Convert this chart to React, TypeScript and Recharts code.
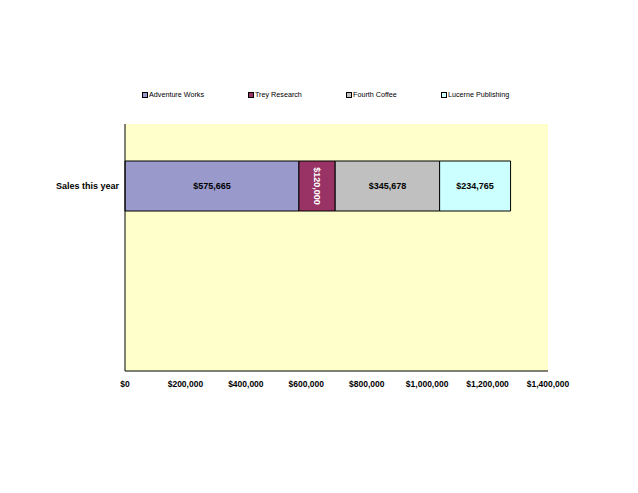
import React from "react";
import {
  BarChart,
  Bar,
  XAxis,
  YAxis,
  CartesianGrid,
  Legend,
  LabelList,
} from "recharts";

const categories = ["Sales this year", ""];
const seriesNames = ["Adventure Works", "Trey Research", "Fourth Coffee", "Lucerne Publishing"];
const seriesValues = [575665, 120000, 345678, 234765];
const seriesColors = ["#9999CC", "#993366", "#C0C0C0", "#CCFFFF"];
const xTicks = [0, 200000, 400000, 600000, 800000, 1000000, 1200000, 1400000];

const data = categories.map((name, i) => {
  const row: Record<string, string | number | null> = { name };
  seriesNames.forEach((s, j) => {
    row[s] = i === 0 ? seriesValues[j] : null;
  });
  return row;
});

const money = (v: number) => `$${Number(v).toLocaleString("en-US")}`;
const font = "'Liberation Sans', Arial, sans-serif";

// legend item left edges
const legendLeft = [142, 248, 346, 441];

const LegendContent = () => (
  <div style={{ position: "relative", height: 0, width: 638 }}>
    {seriesNames.map((s, i) => (
      <div
        key={s}
        style={{
          position: "absolute",
          left: legendLeft[i],
          top: 0,
          display: "flex",
          alignItems: "center",
          fontFamily: font,
          fontSize: 7.2,
          whiteSpace: "nowrap",
        }}
      >
        <span
          style={{
            display: "inline-block",
            width: 4,
            height: 4,
            background: seriesColors[i],
            border: "1px solid #000",
            marginRight: 1,
          }}
        />
        <span style={{ color: "#000" }}>{s}</span>
      </div>
    ))}
  </div>
);

const centerLabel = (color: string, rotate: boolean) => (props: any) => {
  const { x, y, width, height, value } = props;
  if (value == null) return null;
  const cx = Number(x) + Number(width) / 2;
  const cy = Number(y) + Number(height) / 2;
  return (
    <text
      x={cx}
      y={cy}
      textAnchor="middle"
      dominantBaseline="central"
      fill={color}
      fontFamily={font}
      fontSize={9}
      fontWeight="bold"
      transform={rotate ? `rotate(90, ${cx}, ${cy})` : undefined}
    >
      {money(value)}
    </text>
  );
};

export default function App() {
  return (
    <div style={{ position: "absolute", left: 0, top: 0, width: 638, height: 493, background: "#fff" }}>
      <BarChart
        width={638}
        height={493}
        data={data}
        layout="vertical"
        barSize={50}
        margin={{ top: 124, right: 90, bottom: 92, left: 0 }}
      >
        <CartesianGrid horizontal={false} vertical={false} fill="#FFFFCC" fillOpacity={1} />
        <XAxis
          type="number"
          domain={[0, 1400000]}
          ticks={xTicks}
          tickFormatter={money}
          axisLine={{ stroke: "#000" }}
          tickLine={false}
          tickSize={4}
          tickMargin={6}
          height={30}
          interval={0}
          tick={{ fill: "#000", fontFamily: font, fontSize: 8.5, fontWeight: "bold" }}
        />
        <YAxis
          type="category"
          dataKey="name"
          width={125}
          axisLine={{ stroke: "#000" }}
          tickLine={false}
          tickSize={3}
          tickMargin={3}
          tick={{ fill: "#000", fontFamily: font, fontSize: 9, fontWeight: "bold" }}
        />
        <Legend
          verticalAlign="top"
          content={<LegendContent />}
          wrapperStyle={{ position: "absolute", top: 90, left: 0, width: 638 }}
        />
        {seriesNames.map((s, i) => (
          <Bar
            key={s}
            dataKey={s}
            stackId="a"
            fill={seriesColors[i]}
            stroke="#000"
            strokeWidth={1}
            isAnimationActive={false}
          >
            <LabelList dataKey={s} content={centerLabel(i === 1 ? "#fff" : "#000", i === 1)} />
          </Bar>
        ))}
      </BarChart>
    </div>
  );
}
